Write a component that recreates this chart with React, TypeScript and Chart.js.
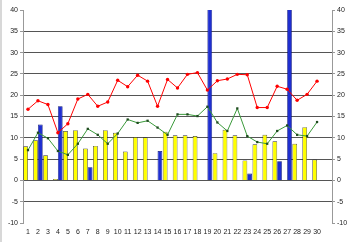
import React, { useEffect, useRef } from "react";
import { Chart, registerables } from "chart.js";

Chart.register(...registerables);

const days: string[] = [
  "1","2","3","4","5","6","7","8","9","10","11","12","13","14","15",
  "16","17","18","19","20","21","22","23","24","25","26","27","28","29","30","",
];
const sunshine: (number | null)[] = [
  8.0, 9.4, 5.9, 0.3, 11.6, 11.8, 7.5, 8.1, 11.8, 11.2, 6.8, 10.2, 10.1, null, 11.4,
  10.6, 10.6, 10.4, null, 6.4, 11.9, 10.6, 4.7, 8.5, 10.7, 9.2, null, 8.6, 12.5, 4.9, null,
];
const precipitation: (number | null)[] = [
  null, 13.1, null, 17.4, null, null, 3.1, null, null, null, null, null, null, 6.9, null,
  null, null, null, 52.5, null, null, null, 1.6, null, null, 4.5, 60.0, null, null, null, null,
];
const maxTemp: (number | null)[] = [
  16.7, 18.7, 17.8, 11.2, 13.3, 19.1, 20.2, 17.4, 18.4, 23.5, 22.0, 24.7, 23.3, 17.4, 23.7,
  21.7, 24.9, 25.3, 21.2, 23.4, 23.8, 24.9, 24.8, 17.1, 17.1, 22.1, 21.4, 18.8, 20.2, 23.3, null,
];
const minTemp: (number | null)[] = [
  7.1, 11.2, 9.9, 6.9, 6.0, 8.6, 12.1, 10.7, 8.6, 11.0, 14.3, 13.5, 14.0, 12.4, 10.7,
  15.5, 15.5, 15.1, 17.3, 13.6, 11.6, 16.9, 10.4, 9.0, 8.6, 11.6, 12.9, 10.7, 10.4, 13.7, null,
];

const FONT = { family: "'Liberation Sans', Arial, sans-serif", size: 7 };

export default function App() {
  const ref = useRef<HTMLCanvasElement | null>(null);

  useEffect(() => {
    document.body.style.margin = "0";
    if (!ref.current) return;
    const chart = new Chart(ref.current, {
      type: "bar",
      data: {
        labels: days,
        datasets: [
          {
            type: "line",
            data: maxTemp,
            borderColor: "#ff0000",
            backgroundColor: "#ff0000",
            borderWidth: 1,
            pointRadius: 1.7,
            pointStyle: "circle",
            pointBorderWidth: 0,
            order: 0,
          },
          {
            type: "line",
            data: minTemp,
            borderColor: "#3a9a3a",
            backgroundColor: "#1f4a1f",
            borderWidth: 1,
            pointRadius: 1.6,
            pointStyle: "rect",
            pointBorderWidth: 0,
            order: 0,
          },
          {
            type: "bar",
            data: sunshine,
            backgroundColor: "#ffff00",
            borderColor: "#333333",
            borderWidth: 0.7,
            categoryPercentage: 0.95,
            barPercentage: 1.0,
            clip: 0,
            order: 1,
          },
          {
            type: "bar",
            data: precipitation,
            backgroundColor: "#1f2fd0",
            borderColor: "#0a1070",
            borderWidth: 0.7,
            categoryPercentage: 0.95,
            barPercentage: 1.0,
            clip: 0,
            order: 1,
          },
        ] as any,
      },
      options: {
        animation: false,
        responsive: false,
        layout: { padding: { top: 10, left: 0, right: 0, bottom: 0 } },
        plugins: { legend: { display: false }, tooltip: { enabled: false } },
        scales: {
          x: {
            type: "category",
            offset: true,
            grid: { display: false, drawTicks: false },
            border: { display: false },
            ticks: {
              font: FONT,
              color: "#222",
              autoSkip: false,
              maxRotation: 0,
              padding: 5,
            },
            afterFit: (s: any) => {
              s.height = 19;
            },
          },
          y: {
            position: "left",
            min: -10,
            max: 40,
            ticks: { stepSize: 5, font: FONT, color: "#222", padding: 2 },
            grid: {
              color: (ctx: any) =>
                ctx.tick && (ctx.tick.value === 40 || ctx.tick.value === -10)
                  ? "rgba(0,0,0,0)"
                  : "#555555",
              tickColor: "#999999",
              tickLength: 3,
              lineWidth: 1,
            },
            border: { display: true, color: "#999999" },
            afterFit: (s: any) => {
              s.width = 21;
            },
          },
          y2: {
            position: "right",
            min: -10,
            max: 40,
            ticks: { stepSize: 5, font: FONT, color: "#222", padding: 2 },
            grid: {
              drawOnChartArea: false,
              tickColor: "#999999",
              tickLength: 3,
            },
            border: { display: true, color: "#999999" },
            afterFit: (s: any) => {
              s.width = 18;
            },
          },
        },
      } as any,
    });
    return () => chart.destroy();
  }, []);

  return (
    <div style={{ width: 350, height: 242, background: "#fff", borderLeft: "2px solid #d8d8d8", boxSizing: "border-box" }}>
      <canvas ref={ref} width={348} height={242} style={{ display: "block" }} />
    </div>
  );
}
